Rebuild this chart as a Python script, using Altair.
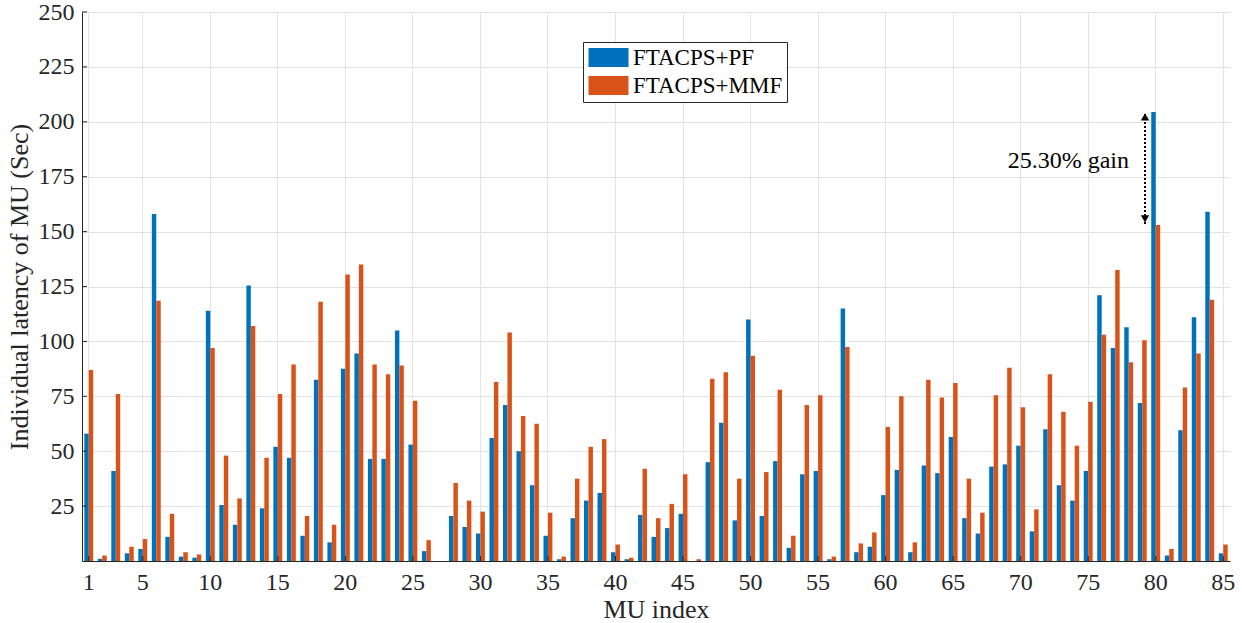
import altair as alt
import pandas as pd

mu_index = list(range(1, 86))
pf = [58, 1, 41, 3.5, 5.5, 158, 11, 2, 1.5, 114,
      25.5, 16.5, 125.5, 24, 52, 47, 11.5, 82.5, 8.5, 87.5,
      94.5, 46.5, 46.5, 105, 53, 4.5, 0, 20.5, 15.5, 12.5,
      56, 71, 50, 34.5, 11.5, 0.8, 19.5, 27.5, 31, 4,
      0.8, 21, 11, 15, 21.5, 0, 45, 63, 18.5, 110,
      20.5, 45.5, 6, 39.5, 41, 0.8, 115, 4, 6.5, 30,
      41.5, 4, 43.5, 40, 56.5, 19.5, 12.5, 43, 44, 52.5,
      13.5, 60, 34.5, 27.5, 41, 121, 97, 106.5, 72, 204.5,
      2.5, 59.5, 111, 159, 3.5]
mmf = [87, 2.5, 76, 6.5, 10, 118.5, 21.5, 4, 3, 97,
       48, 28.5, 107, 47, 76, 89.5, 20.5, 118, 16.5, 130.5,
       135, 89.5, 85, 89, 73, 9.5, 0, 35.5, 27.5, 22.5,
       81.5, 104, 66, 62.5, 22, 2, 37.5, 52, 55.5, 7.5,
       1.5, 42, 19.5, 26, 39.5, 0.8, 83, 86, 37.5, 93.5,
       40.5, 78, 11.5, 71, 75.5, 2, 97.5, 8, 13, 61,
       75, 8.5, 82.5, 74.5, 81, 37.5, 22, 75.5, 88, 70,
       23.5, 85, 68, 52.5, 72.5, 103, 132.5, 90.5, 100.5, 153,
       5.5, 79, 94.5, 119, 7.5]
series = ["FTACPS+PF", "FTACPS+MMF"]
colors = ["#0072BD", "#D95319"]
x_ticks = [1, 5, 10, 15, 20, 25, 30, 35, 40, 45, 50, 55, 60, 65, 70, 75, 80, 85]
y_ticks = [25, 50, 75, 100, 125, 150, 175, 200, 225, 250]
gain_label = ["25.30% gain"]
gain_top = [204.5]
gain_bottom = [153.5]
gain_text_y = [182]

df = pd.DataFrame({
    "MU": mu_index * 2,
    "Series": [series[0]] * len(pf) + [series[1]] * len(mmf),
    "Latency": pf + mmf,
})

FONT = "Liberation Serif"
AXIS_COLOR = "#262626"
W, H = 1148, 549
ARROW_X = 1063
TICK_LEN = 5

bars = alt.Chart(df).mark_bar().encode(
    x=alt.X("MU:O",
            scale=alt.Scale(paddingInner=0.34, paddingOuter=0.17),
            axis=alt.Axis(values=x_ticks, labelAngle=0, bandPosition=0.5,
                          grid=True, title="MU index", tickSize=0,
                          labelPadding=9, titlePadding=2)),
    xOffset=alt.XOffset("Series:N", sort=series,
                        scale=alt.Scale(paddingInner=0, paddingOuter=0)),
    y=alt.Y("Latency:Q",
            scale=alt.Scale(domain=[0, 250], nice=False),
            axis=alt.Axis(values=y_ticks, grid=True, tickSize=0, labelPadding=8,
                          title="Individual latency of MU (Sec)", titlePadding=6)),
    color=alt.Color("Series:N", sort=series,
                    scale=alt.Scale(domain=series, range=colors),
                    legend=alt.Legend(orient="none", legendX=501, legendY=30,
                                      direction="vertical", title=None,
                                      fillColor="white", strokeColor=AXIS_COLOR,
                                      padding=4, labelFont=FONT, labelFontSize=23,
                                      labelColor="#000000", labelLimit=400,
                                      symbolType="M-1,-0.95L3,-0.95L3,0.95L-1,0.95Z",
                                      symbolSize=400, symbolStrokeWidth=0,
                                      symbolOpacity=1,
                                      symbolOffset=0, labelOffset=23, rowPadding=4)),
)

# inward tick marks (MATLAB style)
ytick_df = pd.DataFrame({"Latency": y_ticks})
xtick_df = pd.DataFrame({"MU": x_ticks})
yticks = alt.Chart(ytick_df).mark_rule(color=AXIS_COLOR, strokeWidth=1).encode(
    y="Latency:Q",
    x=alt.value(0),
    x2=alt.value(TICK_LEN),
)
xticks = alt.Chart(xtick_df).mark_rule(color=AXIS_COLOR, strokeWidth=1).encode(
    x="MU:O",
    y=alt.value(H),
    y2=alt.value(H - TICK_LEN),
)

gain_df = pd.DataFrame({"label": gain_label, "Latency": gain_text_y})
line_df = pd.DataFrame({"Latency": [gain_bottom[0], gain_top[0]]})
top_df = pd.DataFrame({"Latency": gain_top})
bottom_df = pd.DataFrame({"Latency": gain_bottom})

rule = alt.Chart(line_df).mark_line(color="black", strokeWidth=2,
                                    strokeDash=[2, 2]).encode(
    x=alt.value(ARROW_X),
    y="Latency:Q",
)
head_up = alt.Chart(top_df).mark_point(shape="triangle-up", filled=True,
                                       color="black", size=70, opacity=1,
                                       yOffset=5).encode(
    x=alt.value(ARROW_X),
    y="Latency:Q",
)
head_down = alt.Chart(bottom_df).mark_point(shape="triangle-down", filled=True,
                                            color="black", size=70, opacity=1,
                                            yOffset=-5).encode(
    x=alt.value(ARROW_X),
    y="Latency:Q",
)
text = alt.Chart(gain_df).mark_text(align="right", baseline="middle",
                                    font=FONT, fontSize=24, color="black").encode(
    x=alt.value(1047),
    y="Latency:Q",
    text="label:N",
)

chart = alt.layer(bars, yticks, xticks, rule, head_up, head_down, text).properties(
    width=W, height=H,
    autosize=alt.AutoSizeParams(type="none"),
    padding={"left": 82, "top": 12, "right": 12, "bottom": 62},
    background="white",
).configure_axis(
    labelFont=FONT, titleFont=FONT, labelFontSize=24, titleFontSize=26,
    labelColor=AXIS_COLOR, titleColor=AXIS_COLOR, titleFontWeight="normal",
    domainColor=AXIS_COLOR, domainWidth=1, gridColor="#e3e3e3", gridWidth=1,
).configure_view(
    strokeWidth=0,
)

chart.save("out.html", embed_options={"renderer": "svg", "actions": False})
